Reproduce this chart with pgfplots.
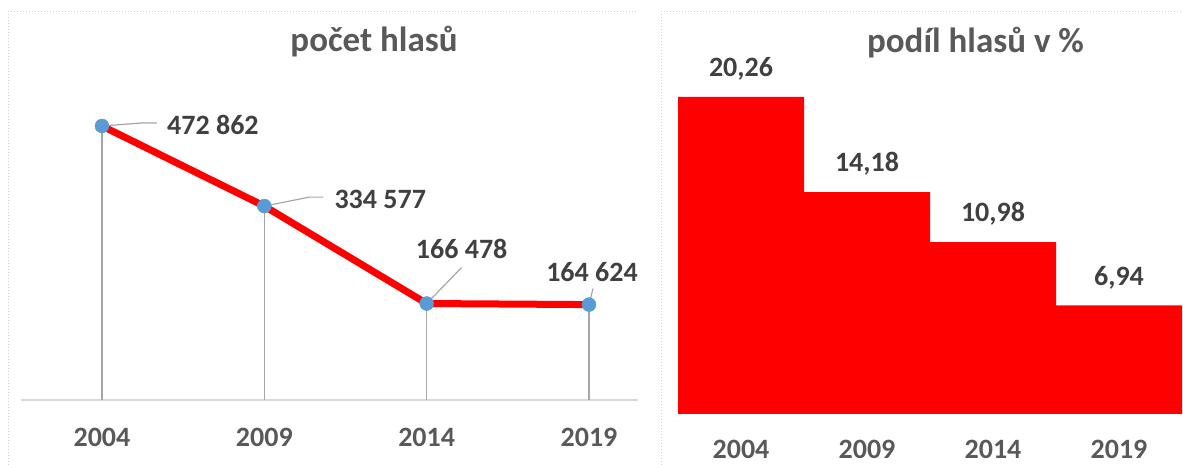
\documentclass[border=0pt]{standalone}
\usepackage{pgfplots}
\pgfplotsset{compat=1.18}
\usepackage{fontspec}
\setmainfont{Carlito}
\definecolor{lblc}{HTML}{404040}
\definecolor{tck}{HTML}{595959}
\definecolor{mk}{HTML}{5B9BD5}
\definecolor{drop}{HTML}{A6A6A6}
\definecolor{axl}{HTML}{D9D9D9}
\definecolor{brd}{HTML}{D0D0D0}
\definecolor{barred}{HTML}{FF0000}
\begin{document}
\begin{tikzpicture}[x=1pt,y=1pt,
  datalbl/.style={font=\fontsize{28}{32}\selectfont\bfseries, text=lblc, inner sep=0pt}]
\useasboundingbox (0,0) rectangle (1183,465);
\draw[brd, dotted, line width=1pt] (8,0) -- (8,453) -- (637,453);
\draw[brd, dotted, line width=1pt] (661,0) -- (661,453) -- (1183,453);
\node[anchor=base, inner sep=0pt, font=\fontsize{35}{40}\selectfont\bfseries, text=tck] at (374,413) {počet hlasů};
\node[anchor=base, inner sep=0pt, font=\fontsize{35}{40}\selectfont\bfseries, text=tck] at (975.5,412) {podíl hlasů v \%};

\begin{axis}[
  at={(20.8pt,65pt)}, anchor=south west, scale only axis,
  width=616.9pt, height=347.7pt,
  xmin=-0.5, xmax=3.30, ymin=0, ymax=600000,
  axis y line=none, axis x line*=bottom,
  x axis line style={axl, line width=1.5pt, -},
  xtick={0,1,2,3}, xticklabels={2004,2009,2014,2019},
  major tick length=0pt,
  xticklabel style={font=\fontsize{28}{32}\selectfont\bfseries, text=tck, anchor=center, yshift=-37pt, inner sep=0pt},
  clip=false,
]
\addplot[ycomb, drop, line width=1.5pt, mark=none] coordinates {(0,472862) (1,334577) (2,166478) (3,164624)};
\addplot[barred, line width=7pt, mark=none, line join=round] coordinates {(0,472862) (1,334577) (2,166478) (3,164624)};
\draw[drop, line width=1.2pt] (axis cs:0,472862) -- ++(40pt,3pt) -- ++(15pt,0pt);
\draw[drop, line width=1.2pt] (axis cs:1,334577) -- ++(45pt,9pt) -- ++(14pt,0pt);
\draw[drop, line width=1.2pt] (axis cs:2,166478) -- ++(35pt,36pt);
\draw[drop, line width=1.2pt] (axis cs:3,164624) -- ++(4pt,16pt);
\addplot[only marks, mark=*, mark size=7pt, mark options={draw=mk, fill=mk}] coordinates {(0,472862) (1,334577) (2,166478) (3,164624)};
\node[datalbl, anchor=west] at (axis cs:0,472862) [xshift=65pt, yshift=1pt] {472 862};
\node[datalbl, anchor=west] at (axis cs:1,334577) [xshift=70pt, yshift=7pt] {334 577};
\node[datalbl, anchor=center] at (axis cs:2,166478) [xshift=35pt, yshift=55pt] {166 478};
\node[datalbl, anchor=center] at (axis cs:3,164624) [xshift=3pt, yshift=33pt] {164 624};
\end{axis}

\begin{axis}[
  at={(678pt,51pt)}, anchor=south west, scale only axis,
  width=504pt, height=344.3pt,
  xmin=-0.5, xmax=3.5, ymin=0, ymax=22,
  axis y line=none, axis x line*=bottom,
  x axis line style={draw=none},
  xtick={0,1,2,3}, xticklabels={2004,2009,2014,2019},
  major tick length=0pt,
  xticklabel style={font=\fontsize{28}{32}\selectfont\bfseries, text=tck, anchor=center, yshift=-35pt, inner sep=0pt},
  clip=false,
  ybar, bar width=1, bar shift=0pt,
  nodes near coords, point meta=explicit symbolic,
  every node near coord/.append style={anchor=center, yshift=28pt, font=\fontsize{28}{32}\selectfont\bfseries, text=lblc, inner sep=0pt},
]
\addplot[fill=barred, draw=none] coordinates {(0,20.26) [20{,}26] (1,14.18) [14{,}18] (2,10.98) [10{,}98] (3,6.94) [6{,}94]};
\end{axis}
\end{tikzpicture}
\end{document}
